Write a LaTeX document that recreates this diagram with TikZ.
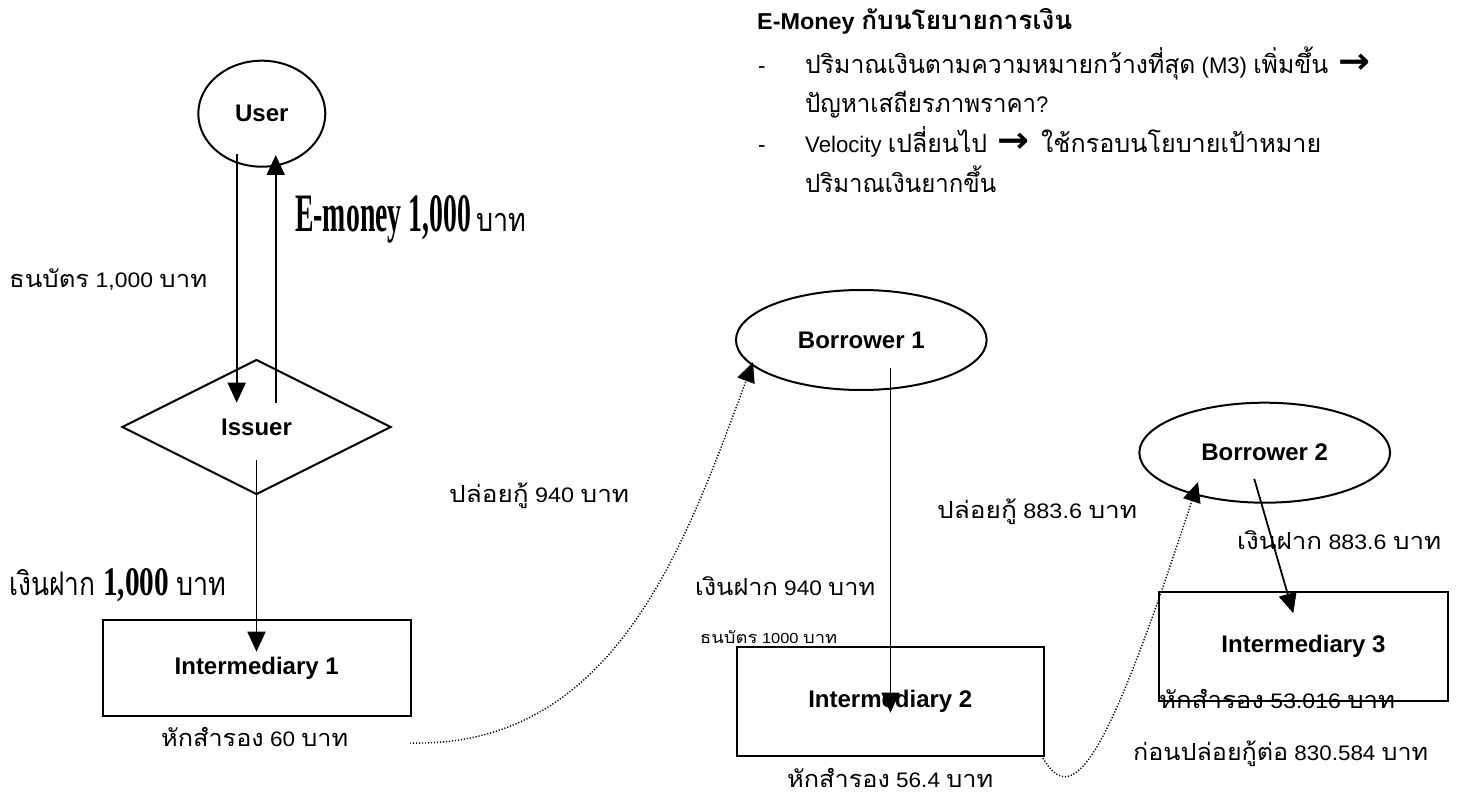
\documentclass[tikz,border=0pt]{standalone}
\usepackage{fontspec}
\usepackage{graphicx}
\setmainfont{Liberation Sans}
\newfontfamily\thai[Script=Thai, Scale=1.12]{Loma}
\newfontfamily\condserif{Liberation Serif}
\newfontfamily\symfont{DejaVu Sans}
\usetikzlibrary{shapes.geometric,arrows.meta,calc}
% Thai words are set in Loma, Latin text and digits in Liberation Sans
\newcommand\T[1]{{\thai #1}}
% squeeze or stretch a run of text to a given width, keeping its height
\newcommand\fitw[2]{\resizebox{#1}{\height}{#2}}
\newcommand\rarr[1]{\fitw{#1}{\fontsize{36}{36}\symfont\bfseries →}}

\begin{document}
\begin{tikzpicture}[x=1pt,y=-1pt,
  shapeline/.style={draw, line width=2pt, inner sep=0pt},
  oval/.style={shapeline, ellipse},
  box/.style={shapeline, rectangle},
  nodetext/.style={font=\fontsize{24}{28}\selectfont\bfseries},
  txt/.style={inner sep=0pt, anchor=base west, font=\fontsize{21}{26}\selectfont},
  notetxt/.style={txt, font=\fontsize{22.5}{28}\selectfont},
  bigthai/.style={txt, font=\fontsize{29}{32}\selectfont},
  flow/.style={line width=1.8pt, -{Triangle[length=20pt,width=18pt]}},
  loan/.style={line width=1.4pt, dash pattern=on 1.2pt off 1.8pt,
               -{Triangle[length=20pt,width=18pt]}}]
\useasboundingbox (0,0) rectangle (1462,799);

% ---- policy notes ----
\node[notetxt, font=\fontsize{23}{28}\selectfont\bfseries] (title) at (757,30)
  {\fitw{315pt}{E-Money \T{กับนโยบายการเงิน}}};
\node[notetxt] (dashA) at (758,74) {-};
\node[notetxt] (noteA1) at (805,74)
  {\fitw{523pt}{\T{ปริมาณเงินตามความหมายกว้างที่สุด} (M3) \T{เพิ่มขึ้น}}};
\node[notetxt] (arrA) at (1338,74) {\rarr{32pt}};
\node[notetxt] (noteA2) at (805,113)
  {\fitw{243pt}{\T{ปัญหาเสถียรภาพราคา}?}};
\node[notetxt] (dashB) at (758,153) {-};
\node[notetxt] (noteB1) at (805,153)
  {\fitw{182pt}{Velocity \T{เปลี่ยนไป}}};
\node[notetxt] (arrB) at (997,153) {\rarr{32pt}};
\node[notetxt] (noteB1b) at (1041,153)
  {\fitw{280pt}{\T{ใช้กรอบนโยบายเป้าหมาย}}};
\node[notetxt] (noteB2) at (805,193)
  {\fitw{191pt}{\T{ปริมาณเงินยากขึ้น}}};

% ---- issuing chain ----
\node[oval, nodetext, minimum width=127pt, minimum height=106pt] (user) at (261.8,113.7) {User};
\node[shapeline, diamond, nodetext, minimum width=269pt, minimum height=135pt] (issuer) at (256.5,427) {Issuer};
\node[box, nodetext, minimum width=308pt, minimum height=96pt] (int1) at (256.7,668) {Intermediary 1};

\node[oval, nodetext, minimum width=250.7pt, minimum height=100pt] (bor1) at (861.3,340) {Borrower 1};
\node[box, nodetext, minimum width=307.3pt, minimum height=108.7pt] (int2) at (890.3,701.7) {Intermediary 2};

\node[oval, nodetext, minimum width=250.7pt, minimum height=100pt] (bor2) at (1264.7,452.7) {Borrower 2};
\node[box, nodetext, minimum width=288.4pt, minimum height=108.7pt] (int3) at (1303.5,646.7) {Intermediary 3};

% connector end points
\coordinate (userOut) at ($(user.center)+(-25.1,40.3)$);
\coordinate (issIn)   at ($(issuer.center)+(-19.8,-24.3)$);
\coordinate (issOut)  at ($(issuer.center)+(19.2,-23.7)$);
\coordinate (userIn)  at ($(user.center)+(13.9,41.3)$);
\coordinate (issDown) at ($(issuer.center)+(0,33)$);
\coordinate (int1In)  at ($(int1.center)+(-0.2,-16.3)$);
\coordinate (bor1Out) at ($(bor1.center)+(29.2,27.7)$);
\coordinate (int2In)  at ($(int2.center)+(0.2,11)$);
\coordinate (bor2Out) at ($(bor2.center)+(-10.4,26.3)$);
\coordinate (int3In)  at ($(int3.center)+(-10.2,-33.4)$);
\coordinate (res1End) at (410,743);
\coordinate (bor1In)  at ($(bor1.center)+(-108.3,22)$);
\coordinate (res2End) at (1043,758);
\coordinate (bor2In)  at ($(bor2.center)+(-66.7,29.3)$);

\draw[flow] (userOut) -- (issIn);
\draw[flow] (issOut) -- (userIn);
\draw[flow] (issDown) -- (int1In);
\draw[flow] (bor1Out) -- (int2In);
\draw[flow] (bor2Out) -- (int3In);
\draw[loan] (res1End) .. controls (615,748) and (685,545) .. (bor1In);
\draw[loan] (res2End) .. controls (1075,815) and (1112,745) .. (bor2In);

% ---- amounts ----
\node[txt] (cash1) at (9,288) {\fitw{198pt}{\T{ธนบัตร} 1,000 \T{บาท}}};
\node[bigthai] (emoney) at (295,232)
  {\resizebox{176pt}{36pt}{\condserif\bfseries E-money 1,000}\hspace{5pt}\fitw{50pt}{\T{บาท}}};
\node[bigthai] (dep1) at (9,595)
  {\fitw{86pt}{\T{เงินฝาก}}\hspace{8pt}\resizebox{66pt}{27pt}{\condserif\bfseries 1,000}\hspace{7pt}\fitw{50pt}{\T{บาท}}};
\node[txt] (res1) at (161,746) {\fitw{187pt}{\T{หักสำรอง} 60 \T{บาท}}};
\node[txt] (loan1) at (449,502) {\fitw{180pt}{\T{ปล่อยกู้} 940 \T{บาท}}};
\node[txt] (dep2) at (695,595) {\fitw{180pt}{\T{เงินฝาก} 940 \T{บาท}}};
\node[txt, font=\fontsize{14.5}{18}\selectfont] (cash2) at (700,643) {\fitw{137pt}{\T{ธนบัตร} 1000 \T{บาท}}};
\node[txt] (res2) at (787,787) {\fitw{206pt}{\T{หักสำรอง} 56.4 \T{บาท}}};
\node[txt] (loan2) at (937,518) {\fitw{200pt}{\T{ปล่อยกู้} 883.6 \T{บาท}}};
\node[txt] (dep3) at (1237,549) {\fitw{204pt}{\T{เงินฝาก} 883.6 \T{บาท}}};
\node[txt] (res3) at (1159,708) {\fitw{236pt}{\T{หักสำรอง} 53.016 \T{บาท}}};
\node[txt] (rel3) at (1133,760) {\fitw{295pt}{\T{ก่อนปล่อยกู้ต่อ} 830.584 \T{บาท}}};
\end{tikzpicture}
\end{document}
